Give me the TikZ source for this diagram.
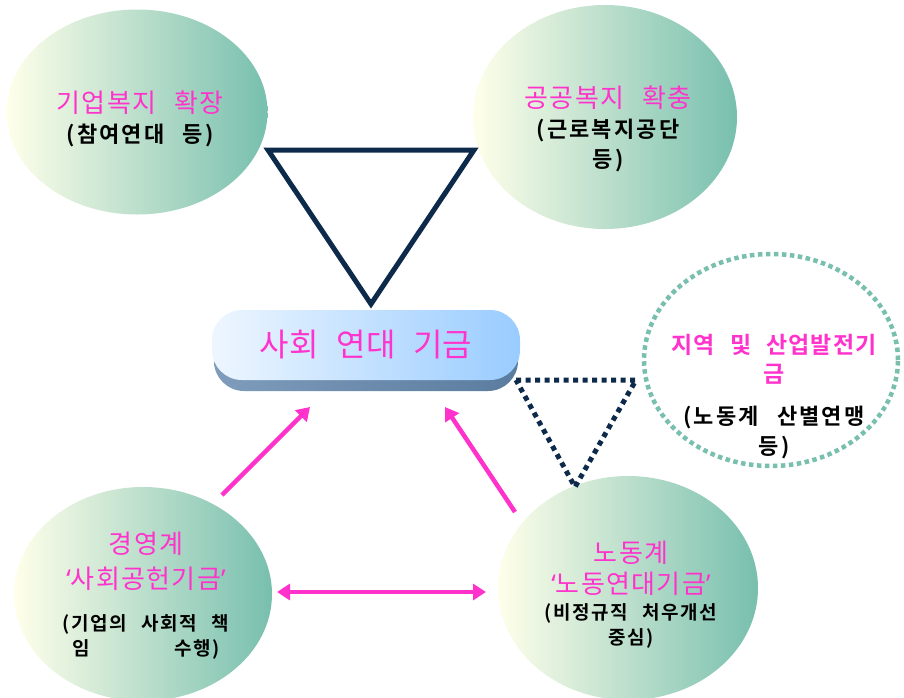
\documentclass[tikz,border=0pt]{standalone}
\usepackage{fontspec}
\setmainfont{Noto Sans CJK KR}
\newfontfamily\kr[LetterSpace=5,WordSpace=2.5]{Noto Sans CJK KR}
\newfontfamily\krcap[LetterSpace=0,WordSpace=2.5]{Noto Sans CJK KR}
\newfontfamily\krb[LetterSpace=10,WordSpace=2.5]{Noto Sans CJK KR Bold}
\newfontfamily\krbs[LetterSpace=8,WordSpace=2.5]{Noto Sans CJK KR Bold}
\newfontfamily\krbw[LetterSpace=4,WordSpace=2.5]{Noto Sans CJK KR Bold}
\newfontfamily\qf{Noto Sans}
\newcommand{\myLQ}{{\qf ‘}}
\newcommand{\myRQ}{{\qf ’}}
\usetikzlibrary{shapes.geometric,shapes.misc,arrows.meta}
\definecolor{pinkc}{HTML}{FF33CC}
\definecolor{navy}{HTML}{0E2A4A}
\definecolor{tealc}{HTML}{78BFAE}
\definecolor{paley}{HTML}{FFFFEA}
\definecolor{capL}{HTML}{EEF6FF}
\definecolor{capR}{HTML}{99CCFF}
\definecolor{capS}{HTML}{5A7C9E}
\definecolor{capSL}{HTML}{7F9CBC}
\tikzset{
  blob/.style={ellipse, left color=paley, right color=tealc, draw=none},
  ptxt/.style={text=pinkc, font=\kr\fontsize{26}{28}\selectfont, align=center},
  btxt/.style={text=black, font=\krb\fontsize{22}{30}\selectfont, align=center},
  sbtxt/.style={text=black, font=\krbs\fontsize{19}{25}\selectfont, align=center},
  parrow/.style={draw=pinkc, line width=4.5pt, -{Triangle[length=13pt,width=16pt]}},
  pdarrow/.style={draw=pinkc, line width=4.5pt, {Triangle[length=13pt,width=16pt]}-{Triangle[length=13pt,width=16pt]}},
}
\begin{document}
\begin{tikzpicture}[x=1pt,y=-1pt]
\useasboundingbox (0,0) rectangle (904,697);
% ellipses
\node[blob, minimum width=261pt, minimum height=205pt] (tl) at (137,112) {};
\node[blob, minimum width=264pt, minimum height=224pt] (tr) at (605,117) {};
\node[blob, minimum width=258pt, minimum height=214pt] (bl) at (143,594) {};
\node[blob, minimum width=260pt, minimum height=224pt] (br) at (628,588) {};
\node[ellipse, draw=tealc, line width=4.5pt, dash pattern=on 4.5pt off 3.5pt, minimum width=254pt, minimum height=212pt] (dc) at (771,360) {};
% capsule
\node[rectangle, rounded corners=30pt, left color=capSL, right color=capS, minimum width=304pt, minimum height=72pt, inner sep=0pt] (caps) at (366,355) {};
\node[rectangle, rounded corners=30pt, left color=capL, right color=capR, minimum width=308pt, minimum height=70pt, inner sep=0pt,
  text=pinkc, font=\krcap\fontsize{32}{36}\selectfont] (cap) at (366,345) {\raisebox{-3pt}{사회 연대 기금}};
% triangles
\draw[navy, line width=5pt, line join=miter] (268,150) -- (474,150) -- (371,304) -- cycle;
\draw[navy, line width=5pt, dash pattern=on 5pt off 4.5pt] (516,380) -- (636,380) -- (575,487) -- cycle;
% texts
\node[ptxt] (t1) at (140,103) {기업복지 확장};
\node[btxt] (t2) at (140,135) {(참여연대 등)};
\node[ptxt] (t3) at (608,98) {공공복지 확충};
\node[btxt] (t4) at (608,146) {(근로복지공단\\등)};
\node[ptxt, font=\krbw\fontsize{23}{29}\selectfont] (t5) at (774,359) {지역 및 산업발전기\\금};
\node[btxt] (t6) at (774,432) {(노동계 산별연맹\\등)};
\node[ptxt, font=\kr\fontsize{26}{35}\selectfont] (t7) at (146,561) {경영계\\\myLQ 사회공헌기금\myRQ};
\node[sbtxt] (t8) at (146,637) {(기업의 사회적 책\\임\hspace{85pt}수행)};
\node[ptxt, font=\kr\fontsize{26}{31}\selectfont] (t9) at (631,568) {노동계\\\myLQ 노동연대기금\myRQ};
\node[sbtxt] (t10) at (631,626) {(비정규직 처우개선\\중심)};
% arrows
\coordinate (a1s) at (222,495);
\coordinate (a1e) at (310,407);
\coordinate (a2s) at (515,512);
\coordinate (a2e) at (445,407);
\coordinate (a3s) at (277,592);
\coordinate (a3e) at (486,592);
\draw[parrow] (a1s) -- (a1e);
\draw[parrow] (a2s) -- (a2e);
\draw[pdarrow] (a3s) -- (a3e);
\end{tikzpicture}
\end{document}
